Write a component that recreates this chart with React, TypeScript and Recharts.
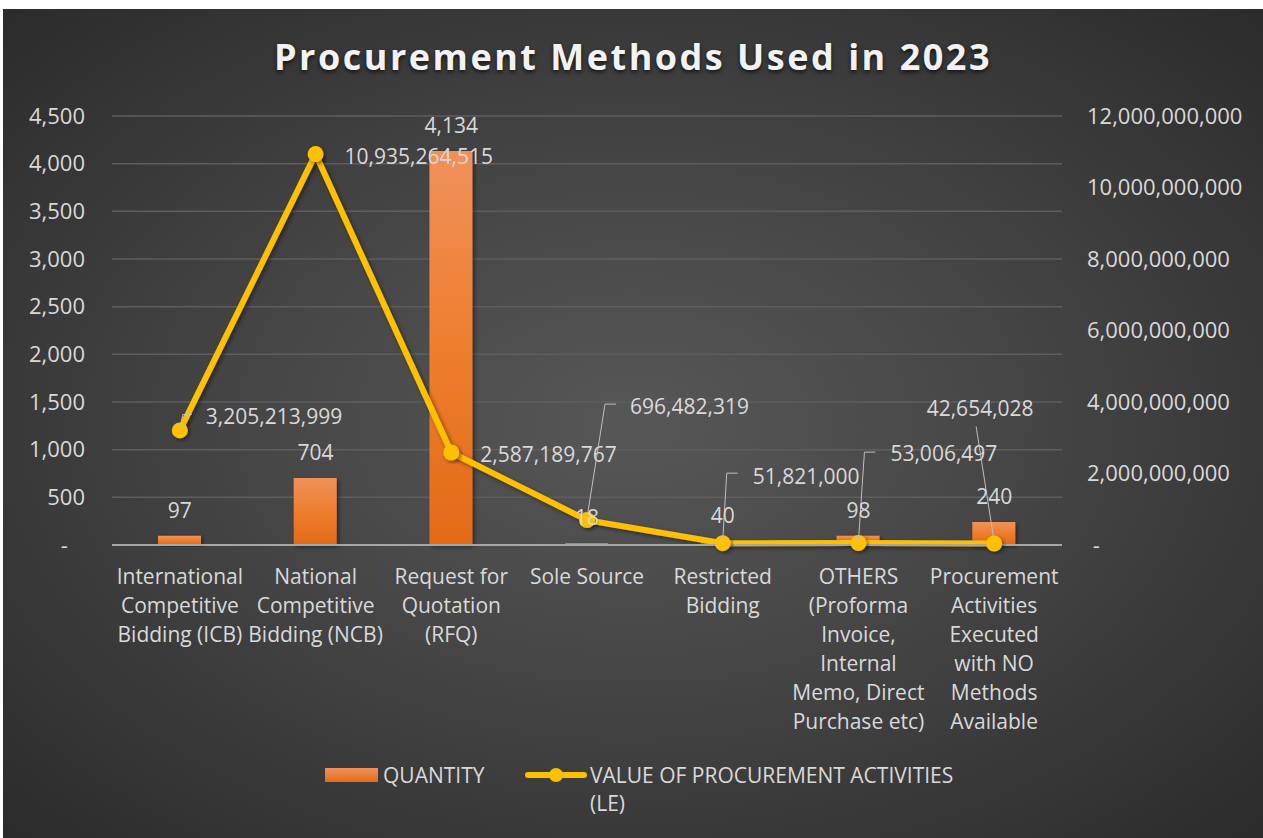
import { ComposedChart, Bar, Line, XAxis, YAxis, CartesianGrid, Legend, LabelList } from 'recharts';

const categories = [
    "International Competitive Bidding (ICB)",
    "National Competitive Bidding (NCB)",
    "Request for Quotation (RFQ)",
    "Sole Source",
    "Restricted Bidding",
    "OTHERS (Proforma Invoice, Internal Memo, Direct Purchase etc)",
    "Procurement Activities Executed with NO Methods Available",
];

// wrapped category labels, as they appear under the axis
const categoryLines = [
    ["International", "Competitive", "Bidding (ICB)"],
    ["National", "Competitive", "Bidding (NCB)"],
    ["Request for", "Quotation", "(RFQ)"],
    ["Sole Source"],
    ["Restricted", "Bidding"],
    ["OTHERS", "(Proforma", "Invoice,", "Internal", "Memo, Direct", "Purchase etc)"],
    ["Procurement", "Activities", "Executed", "with NO", "Methods", "Available"],
];

const quantity = [97, 704, 4134, 18, 40, 98, 240];
const procurementValue = [3205213999, 10935264515, 2587189767, 696482319, 51821000, 53006497, 42654028];

const leftTicks = [0, 500, 1000, 1500, 2000, 2500, 3000, 3500, 4000, 4500];
const rightTicks = [0, 2000000000, 4000000000, 6000000000, 8000000000, 10000000000, 12000000000];

const data = categories.map((name, i) => ({
    name,
    quantity: quantity[i],
    value: procurementValue[i],
}));

const FONT = '"Open Sans", "Noto Sans", sans-serif';
const TEXT = "#D9D9D9";
const LINE = "#FFC000";

// where each value label sits relative to its point: text offset, leader elbow, hook length
const valueLabelPlacement = [
    { dx: 26, dy: -14, anchor: "start", elbow: [3, -16], hook: 9 },
    { dx: 29, dy: 2, anchor: "start", elbow: null, hook: 0 },
    { dx: 29, dy: 1, anchor: "start", elbow: null, hook: 0 },
    { dx: 43, dy: -114, anchor: "start", elbow: [18, -116], hook: 11 },
    { dx: 30, dy: -67, anchor: "start", elbow: [4, -70], hook: 11 },
    { dx: 32, dy: -90, anchor: "start", elbow: [6, -91], hook: 11 },
    { dx: -14, dy: -135, anchor: "middle", elbow: [-18, -117], hook: 0 },
];

const fmt = (v: number) => v.toLocaleString('en-US');

const ValueLabel = (props: any) => {
    const { x, y, index, value } = props;
    const p = valueLabelPlacement[index];
    if (!p) return null;
    let leader = null;
    if (p.elbow) {
        const ex = x + p.elbow[0];
        const ey = y + p.elbow[1];
        leader = (
            <path
                d={`M${x},${y - 2} L${ex},${ey} L${ex + p.hook},${ey}`}
                fill="none"
                stroke="#BFBFBF"
                strokeWidth={1}
            />
        );
    }
    return (
        <g>
            {leader}
            <text
                x={x + p.dx}
                y={y + p.dy}
                textAnchor={p.anchor}
                dominantBaseline="central"
                fill={TEXT}
                fontSize={21}
                fontFamily={FONT}
            >
                {fmt(value)}
            </text>
        </g>
    );
};

const CategoryTick = (props: any) => {
    const { x, y, payload } = props;
    const lines = categoryLines[payload.index] || [];
    return (
        <g>
            {lines.map((line, i) => (
                <text
                    key={i}
                    x={x}
                    y={y + 23 + i * 29}
                    textAnchor="middle"
                    dominantBaseline="central"
                    fill={TEXT}
                    fontSize={21}
                    fontFamily={FONT}
                >
                    {line}
                </text>
            ))}
        </g>
    );
};

const LegendContent = () => (
    <div style={{ position: "relative", height: 80, fontFamily: FONT, fontSize: 21, color: TEXT }}>
        <div style={{ position: "absolute", left: 322, top: 10, width: 53, height: 14, background: "linear-gradient(#F0915A, #E36C1A)" }} />
        <div style={{ position: "absolute", left: 380, top: 3, lineHeight: "28px" }}>QUANTITY</div>
        <svg style={{ position: "absolute", left: 522, top: 7 }} width={62} height={20}>
            <line x1={3} y1={10} x2={59} y2={10} stroke={LINE} strokeWidth={6} strokeLinecap="round" />
            <circle cx={31} cy={10} r={7} fill={LINE} />
        </svg>
        <div style={{ position: "absolute", left: 587, top: 3, lineHeight: "28px" }}>
            VALUE OF PROCUREMENT ACTIVITIES
            <br />
            (LE)
        </div>
    </div>
);

const App = () => {
    return (
        <div
            style={{
                position: "absolute",
                left: 3,
                top: 9,
                width: 1260,
                height: 829,
                background: "radial-gradient(ellipse farthest-corner at 50% 50%, #575757 0%, #474747 40%, #2b2b2b 100%)",
            }}
        >
            <div
                style={{
                    position: "absolute",
                    top: 27,
                    left: 0,
                    width: 1260,
                    textAlign: "center",
                    fontFamily: FONT,
                    fontWeight: 700,
                    fontSize: 36,
                    lineHeight: "42px",
                    letterSpacing: 2.5,
                    color: "#F2F2F2",
                    textShadow: "0 2px 4px rgba(0,0,0,0.7)",
                }}
            >
                Procurement Methods Used in 2023
            </div>
            <ComposedChart
                width={1260}
                height={829}
                data={data}
                margin={{ top: 107, right: 0, left: 0, bottom: 0 }}
                barSize={43}
            >
                <defs>
                    <linearGradient id="barFill" x1="0" y1="0" x2="0" y2="1">
                        <stop offset="0%" stopColor="#F0915A" />
                        <stop offset="50%" stopColor="#EE7E2E" />
                        <stop offset="100%" stopColor="#E26A17" />
                    </linearGradient>
                    <filter id="softShadow" x="-20%" y="-20%" width="140%" height="140%">
                        <feDropShadow dx="2" dy="2" stdDeviation="2" floodColor="#000" floodOpacity="0.45" />
                    </filter>
                </defs>
                <CartesianGrid vertical={false} stroke="#5E5E5E" strokeWidth={1.5} yAxisId="left" />
                <XAxis
                    dataKey="name"
                    height={213}
                    tickLine={false}
                    axisLine={{ stroke: "#A6A6A6", strokeWidth: 2 }}
                    tick={<CategoryTick />}
                    interval={0}
                />
                <YAxis
                    yAxisId="left"
                    width={109}
                    domain={[0, 4500]}
                    ticks={leftTicks}
                    tickLine={false}
                    axisLine={false}
                    tickMargin={21}
                    tickFormatter={(v: number) => (v === 0 ? "-\u00A0\u00A0\u00A0" : fmt(v))}
                    tick={{ fill: TEXT, fontSize: 22, fontFamily: FONT }}
                />
                <YAxis
                    yAxisId="right"
                    orientation="right"
                    width={201}
                    domain={[0, 12000000000]}
                    ticks={rightTicks}
                    tickLine={false}
                    axisLine={false}
                    tickMargin={19}
                    tickFormatter={(v: number) => (v === 0 ? "\u00A0-" : fmt(v))}
                    tick={{ fill: TEXT, fontSize: 22, fontFamily: FONT }}
                />
                <Legend verticalAlign="bottom" height={80} content={<LegendContent />} />
                <Bar
                    yAxisId="left"
                    dataKey="quantity"
                    name="QUANTITY"
                    fill="url(#barFill)"
                    filter="url(#softShadow)"
                    isAnimationActive={false}
                />
                <Line
                    yAxisId="right"
                    dataKey="value"
                    name="VALUE OF PROCUREMENT ACTIVITIES (LE)"
                    stroke={LINE}
                    strokeWidth={6}
                    filter="url(#softShadow)"
                    dot={{ r: 8, fill: LINE, stroke: "none" }}
                    activeDot={false}
                    isAnimationActive={false}
                >
                    <LabelList dataKey="value" content={<ValueLabel />} />
                </Line>
                {/* quantity labels drawn last so they sit above the line markers */}
                <Line
                    yAxisId="left"
                    dataKey="quantity"
                    stroke="none"
                    dot={false}
                    activeDot={false}
                    legendType="none"
                    isAnimationActive={false}
                >
                    <LabelList
                        dataKey="quantity"
                        position="top"
                        offset={18}
                        fill={TEXT}
                        fontSize={21}
                        fontFamily={FONT}
                        formatter={(v: any) => fmt(Number(v))}
                    />
                </Line>
            </ComposedChart>
        </div>
    );
};

export default App;
